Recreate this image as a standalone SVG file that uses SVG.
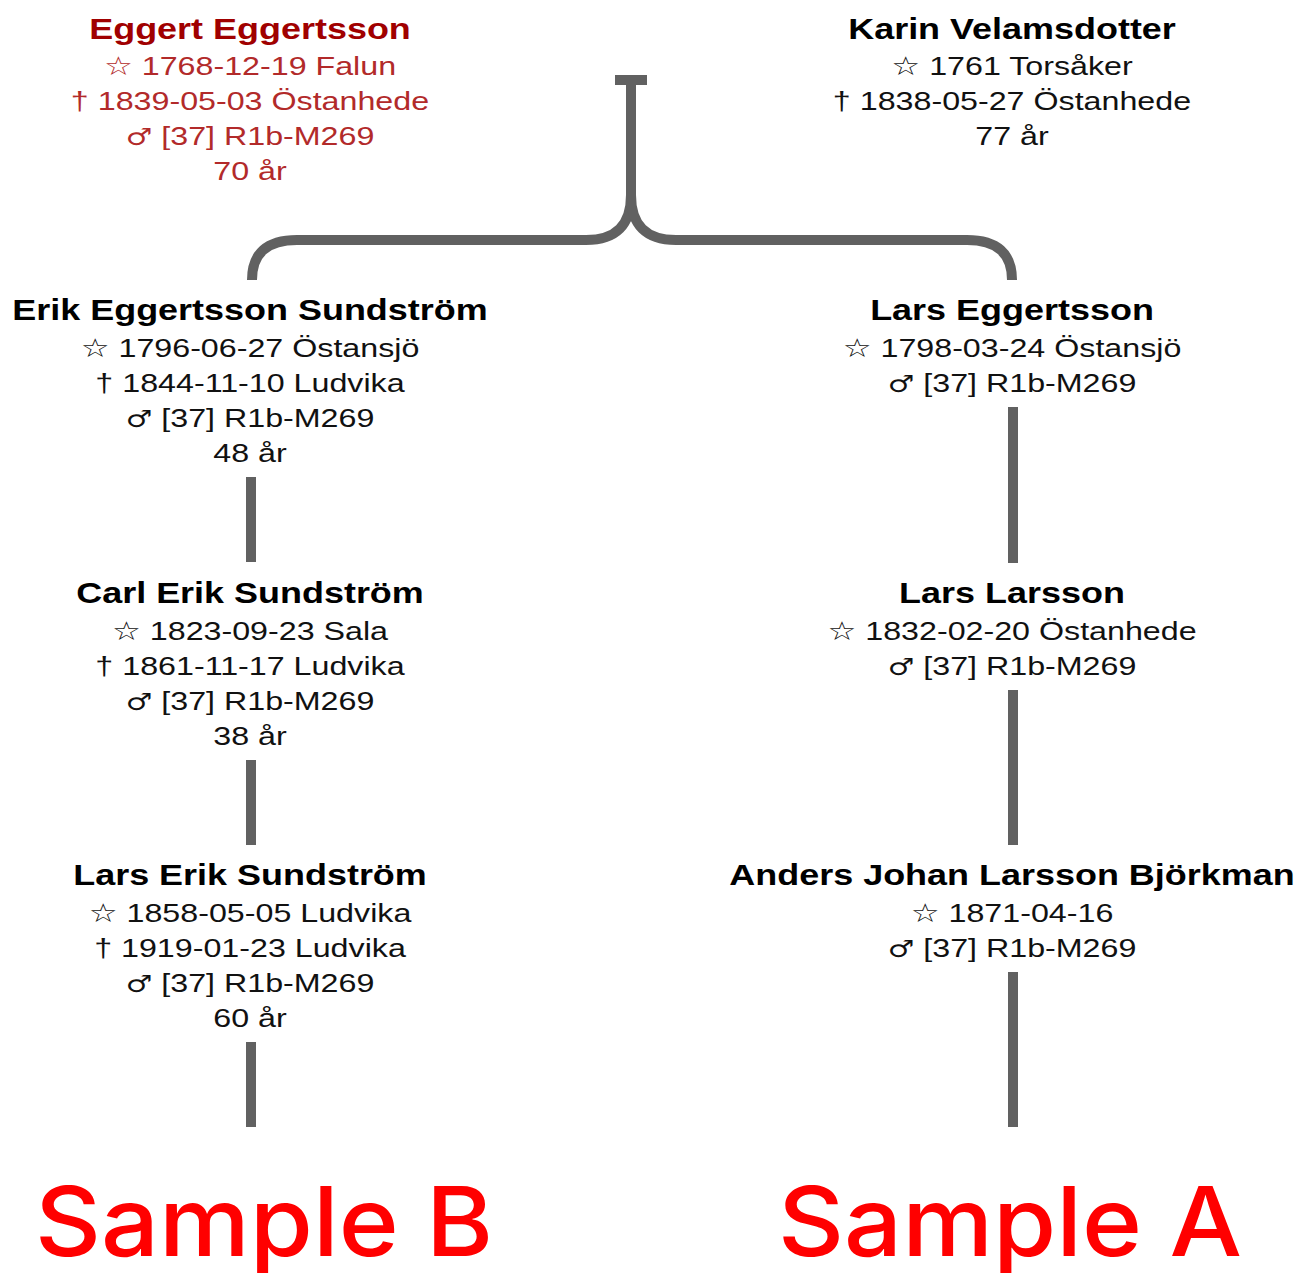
<svg xmlns="http://www.w3.org/2000/svg" width="1297" height="1273" viewBox="0 0 1297 1273">
<style>
text{font-family:"Liberation Sans",Arial,"DejaVu Sans",sans-serif;text-anchor:middle}
.nm{font-size:29px;font-weight:bold;fill:#000}
.dt{font-size:26px;fill:#111}
.rn{fill:#a00000}
.rd{fill:#b22a2a}
.sy{font-family:"DejaVu Sans",sans-serif;font-size:24px}
.ln{fill:none;stroke:#616161;stroke-width:10;stroke-linecap:butt}
.big{font-family:Inter,"Liberation Sans",sans-serif;font-weight:500;font-size:96px;fill:#ff0000}
</style>
<rect width="1297" height="1273" fill="#fff"/>
<g id="connectors">
<path class="ln" d="M615,80 H647"/>
<path class="ln" d="M631,80 V195 Q631,240 586,240 H297 Q252,240 252,280"/>
<path class="ln" d="M631,195 Q631,240 676,240 H967 Q1012,240 1012,280"/>
<path class="ln" d="M251,477 V562"/>
<path class="ln" d="M251,760 V845"/>
<path class="ln" d="M251,1042 V1127"/>
<path class="ln" d="M1013,407 V563"/>
<path class="ln" d="M1013,690 V845"/>
<path class="ln" d="M1013,972 V1127"/>
</g>
<g id="eggert" transform="translate(250 0) scale(1.24 1)">
<text class="nm rn" x="0" y="39">Eggert Eggertsson</text>
<text class="dt rd" x="0" y="75">☆ 1768-12-19 Falun</text>
<text class="dt rd" x="0" y="110">† 1839-05-03 Östanhede</text>
<text class="dt rd" x="0" y="145"><tspan class="sy">♂</tspan> [37] R1b-M269</text>
<text class="dt rd" x="0" y="180">70 år</text>
</g>
<g id="karin" transform="translate(1012 0) scale(1.24 1)">
<text class="nm" x="0" y="39">Karin Velamsdotter</text>
<text class="dt" x="0" y="75">☆ 1761 Torsåker</text>
<text class="dt" x="0" y="110">† 1838-05-27 Östanhede</text>
<text class="dt" x="0" y="145">77 år</text>
</g>
<g id="erik" transform="translate(250 0) scale(1.24 1)">
<text class="nm" x="0" y="320">Erik Eggertsson Sundström</text>
<text class="dt" x="0" y="357">☆ 1796-06-27 Östansjö</text>
<text class="dt" x="0" y="392">† 1844-11-10 Ludvika</text>
<text class="dt" x="0" y="427"><tspan class="sy">♂</tspan> [37] R1b-M269</text>
<text class="dt" x="0" y="462">48 år</text>
</g>
<g id="lars" transform="translate(1012 0) scale(1.24 1)">
<text class="nm" x="0" y="320">Lars Eggertsson</text>
<text class="dt" x="0" y="357">☆ 1798-03-24 Östansjö</text>
<text class="dt" x="0" y="392"><tspan class="sy">♂</tspan> [37] R1b-M269</text>
</g>
<g id="carl" transform="translate(250 0) scale(1.24 1)">
<text class="nm" x="0" y="603">Carl Erik Sundström</text>
<text class="dt" x="0" y="640">☆ 1823-09-23 Sala</text>
<text class="dt" x="0" y="675">† 1861-11-17 Ludvika</text>
<text class="dt" x="0" y="710"><tspan class="sy">♂</tspan> [37] R1b-M269</text>
<text class="dt" x="0" y="745">38 år</text>
</g>
<g id="larslarsson" transform="translate(1012 0) scale(1.24 1)">
<text class="nm" x="0" y="603">Lars Larsson</text>
<text class="dt" x="0" y="640">☆ 1832-02-20 Östanhede</text>
<text class="dt" x="0" y="675"><tspan class="sy">♂</tspan> [37] R1b-M269</text>
</g>
<g id="larserik" transform="translate(250 0) scale(1.24 1)">
<text class="nm" x="0" y="885">Lars Erik Sundström</text>
<text class="dt" x="0" y="922">☆ 1858-05-05 Ludvika</text>
<text class="dt" x="0" y="957">† 1919-01-23 Ludvika</text>
<text class="dt" x="0" y="992"><tspan class="sy">♂</tspan> [37] R1b-M269</text>
<text class="dt" x="0" y="1027">60 år</text>
</g>
<g id="anders" transform="translate(1012 0) scale(1.24 1)">
<text class="nm" x="0" y="885">Anders Johan Larsson Björkman</text>
<text class="dt" x="0" y="922">☆ 1871-04-16</text>
<text class="dt" x="0" y="957"><tspan class="sy">♂</tspan> [37] R1b-M269</text>
</g>
<g id="labels">
<text class="big" x="264" y="1256" textLength="458" lengthAdjust="spacingAndGlyphs">Sample B</text>
<text class="big" x="1010" y="1256" textLength="464" lengthAdjust="spacingAndGlyphs">Sample A</text>
</g>
</svg>
